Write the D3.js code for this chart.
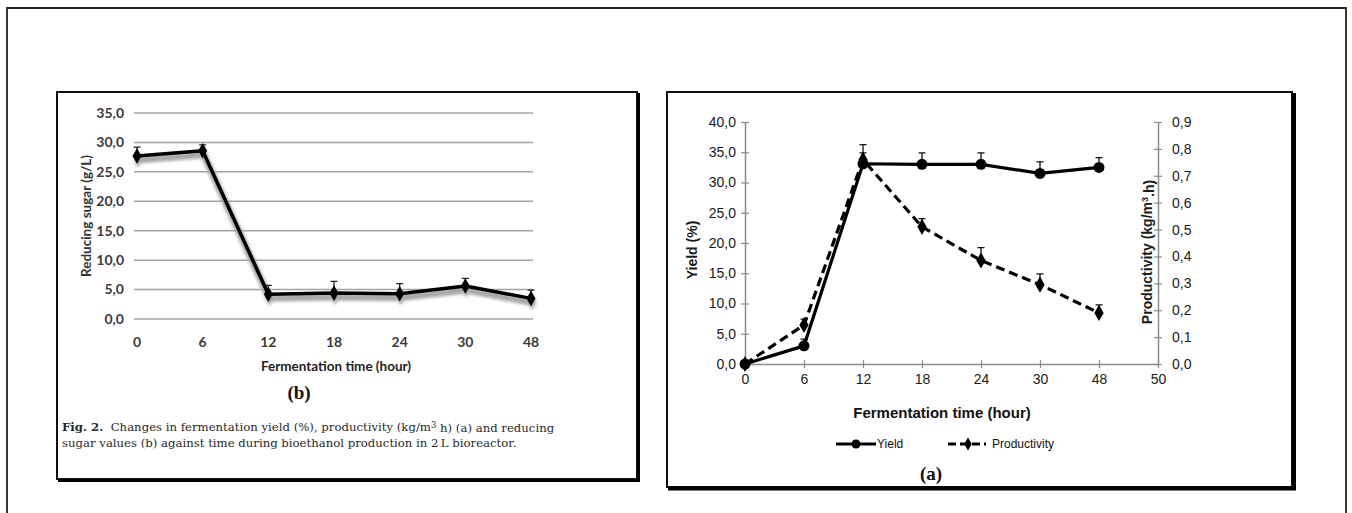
<!DOCTYPE html>
<html>
<head>
<meta charset="utf-8">
<script src="https://cdn.jsdelivr.net/npm/d3@7"></script>
<style>
  html, body { margin: 0; padding: 0; background: #fff; }
  svg { display: block; }
</style>
</head>
<body>
<div id="chart"></div>
<script>
// panel (b): reducing sugar
const timeB = ['0', '6', '12', '18', '24', '30', '48'];
const sugar = [27.7, 28.6, 4.2, 4.4, 4.3, 5.6, 3.5];
const sugarErr = [1.5, 1.0, 1.5, 2.0, 1.7, 1.3, 1.4];
const sugarTicks = [0, 5, 10, 15, 20, 25, 30, 35];

// panel (a): yield and productivity
const timeA = ['0', '6', '12', '18', '24', '30', '48', '50'];
const yieldVals = [0, 3.0, 33.1, 33.0, 33.0, 31.5, 32.5];
const yieldErr = [0.3, 1.1, 1.8, 1.9, 1.9, 1.9, 1.6];
const prodVals = [0, 0.145, 0.76, 0.51, 0.385, 0.295, 0.19];
const prodErr = [0.005, 0.022, 0.056, 0.031, 0.048, 0.04, 0.03];
const yieldTicks = [0, 5, 10, 15, 20, 25, 30, 35, 40];
const prodTicks = [0, 0.1, 0.2, 0.3, 0.4, 0.5, 0.6, 0.7, 0.8, 0.9];

const W = 1352, H = 513;
const loc = d3.formatLocale({decimal: ',', thousands: '.', grouping: [3], currency: ['', '']});
const fmt1 = loc.format('.1f');

const svg = d3.select('#chart').append('svg')
  .attr('width', W)
  .attr('height', H);

const defs = svg.append('defs');
defs.append('filter')
  .attr('id', 'blur')
  .attr('x', '-10%').attr('y', '-10%').attr('width', '120%').attr('height', '120%')
  .append('feGaussianBlur')
  .attr('stdDeviation', 1.6);

// frames
svg.append('path')
  .attr('d', `M7,${H + 2} V8 H1346 V${H + 2}`)
  .style('fill', 'none')
  .style('stroke', '#222')
  .style('stroke-width', 1.8);

function panel(x0, y0, x1, y1, thick) {
  svg.append('rect')
    .attr('x', x0).attr('y', y0)
    .attr('width', x1 - x0).attr('height', y1 - y0)
    .style('fill', 'none')
    .style('stroke', '#111')
    .style('stroke-width', 2);
  svg.append('path')
    .attr('d', `M${x1 + thick / 2},${y0 + 1} V${y1 + 1.5} H${x0 + 1}`)
    .style('fill', 'none')
    .style('stroke', '#000')
    .style('stroke-width', thick);
}
panel(57, 92, 637, 479, 3);
panel(667, 92, 1292, 487, 4);

/* ---------- panel (b) ---------- */
const xB = d3.scalePoint().domain(timeB).range([137, 531]);
const yB = d3.scaleLinear().domain([0, 35]).range([319, 113]);

const gB = svg.append('g');

gB.selectAll('.grid')
  .data(sugarTicks)
  .enter()
  .append('line')
  .attr('x1', 134).attr('x2', 533)
  .attr('y1', d => yB(d)).attr('y2', d => yB(d))
  .style('stroke', '#a3a3a3')
  .style('stroke-width', 1.5);

gB.selectAll('.ytick')
  .data(sugarTicks)
  .enter()
  .append('text')
  .attr('x', 124)
  .attr('y', d => yB(d))
  .attr('dy', '0.35em')
  .attr('text-anchor', 'end')
  .style('font', '700 14px Lato, sans-serif')
  .style('fill', '#3a3a3a')
  .text(d => fmt1(d));

gB.selectAll('.xtick')
  .data(timeB)
  .enter()
  .append('text')
  .attr('x', d => xB(d))
  .attr('y', 342)
  .attr('dy', '0.35em')
  .attr('text-anchor', 'middle')
  .style('font', '700 14px Lato, sans-serif')
  .style('fill', '#3a3a3a')
  .text(d => d);

gB.append('text')
  .attr('transform', 'translate(86,216) rotate(-90)')
  .attr('text-anchor', 'middle')
  .attr('dy', '0.35em')
  .style('font', '700 13.5px Lato, sans-serif')
  .style('fill', '#333')
  .text('Reducing sugar (g/L)');

gB.append('text')
  .attr('x', 336).attr('y', 366)
  .attr('dy', '0.35em')
  .attr('text-anchor', 'middle')
  .style('font', '700 13.5px Lato, sans-serif')
  .style('fill', '#222')
  .text('Fermentation time (hour)');

gB.append('text')
  .attr('x', 299).attr('y', 392)
  .attr('dy', '0.35em')
  .attr('text-anchor', 'middle')
  .style('font', '700 19px "Liberation Serif", serif')
  .style('fill', '#111')
  .text('(b)');

const sugarPts = timeB.map((t, i) => ({t: t, v: sugar[i], e: sugarErr[i]}));
const lineB = d3.line().x(d => xB(d.t)).y(d => yB(d.v));
const diamond = d3.symbol().type(d3.symbolDiamond).size(70);

// soft grey shadow under the line
const shadow = gB.append('g')
  .attr('transform', 'translate(1,4)')
  .attr('filter', 'url(#blur)');
shadow.append('path')
  .datum(sugarPts)
  .attr('d', lineB)
  .style('fill', 'none')
  .style('stroke', '#a8a8a8')
  .style('stroke-width', 7);
shadow.selectAll('.sh')
  .data(sugarPts)
  .enter()
  .append('path')
  .attr('d', diamond)
  .attr('transform', d => `translate(${xB(d.t)},${yB(d.v)})`)
  .style('fill', '#a8a8a8');

gB.selectAll('.err')
  .data(sugarPts)
  .enter()
  .append('path')
  .attr('d', d => {
    const x = xB(d.t), y0 = yB(d.v), y1 = yB(d.v + d.e);
    return `M${x},${y0} V${y1} M${x - 3.5},${y1} H${x + 3.5}`;
  })
  .style('stroke', '#222')
  .style('stroke-width', 1.3)
  .style('fill', 'none');

gB.append('path')
  .datum(sugarPts)
  .attr('d', lineB)
  .style('fill', 'none')
  .style('stroke', '#000')
  .style('stroke-width', 3.5)
  .style('stroke-linejoin', 'round');

gB.selectAll('.mk')
  .data(sugarPts)
  .enter()
  .append('path')
  .attr('d', diamond)
  .attr('transform', d => `translate(${xB(d.t)},${yB(d.v)})`)
  .style('fill', '#000');

// caption
const capFont = '11.7px "DejaVu Serif", serif';
const cap = svg.append('text')
  .attr('x', 62).attr('y', 427)
  .attr('dy', '0.35em')
  .style('font', capFont)
  .style('fill', '#2a2a2a');
cap.append('tspan').style('font-weight', 700).text('Fig. 2.');
cap.append('tspan').text('\u00a0 Changes in fermentation yield (%), productivity (kg/m');
cap.append('tspan').attr('dy', '-0.4em').style('font-size', '8.5px').text('3');
cap.append('tspan').attr('dy', '0.4em').text(' h) (a) and reducing');

svg.append('text')
  .attr('x', 62).attr('y', 443)
  .attr('dy', '0.35em')
  .style('font', capFont)
  .style('fill', '#2a2a2a')
  .text('sugar values (b) against time during bioethanol production in 2\u2009L bioreactor.');

/* ---------- panel (a) ---------- */
const xA = d3.scalePoint().domain(timeA).range([745, 1158]);
const yA = d3.scaleLinear().domain([0, 40]).range([364, 122]);
const yP = d3.scaleLinear().domain([0, 0.9]).range([364, 122]);

const gA = svg.append('g');

const axL = gA.append('g')
  .attr('transform', `translate(${xA('0')},0)`)
  .call(d3.axisLeft(yA).tickValues(yieldTicks).tickFormat(fmt1).tickSizeInner(4).tickSizeOuter(0));
const axR = gA.append('g')
  .attr('transform', `translate(${xA('50')},0)`)
  .call(d3.axisRight(yP).tickValues(prodTicks).tickFormat(fmt1).tickSizeInner(4).tickSizeOuter(0));
const axB = gA.append('g')
  .attr('transform', `translate(0,${yA(0)})`)
  .call(d3.axisBottom(xA).tickSizeInner(4).tickSizeOuter(0));

[axL, axR, axB].forEach(ax => {
  ax.select('.domain').attr('stroke', '#8c8c8c').attr('stroke-width', 1.5);
  ax.selectAll('.tick line').attr('stroke', '#8c8c8c').attr('stroke-width', 1.2);
  ax.selectAll('.tick text')
    .style('font', '14px "Liberation Sans", Arial, sans-serif')
    .style('fill', '#1a1a1a');
});
axL.selectAll('.tick line').attr('x1', 4);
axR.selectAll('.tick line').attr('x1', -4);
axB.selectAll('.tick line').attr('y1', -4);
axL.selectAll('.tick text').attr('x', -9);
axR.selectAll('.tick text').attr('x', 14);
axB.selectAll('.tick text').attr('y', 10);

gA.append('text')
  .attr('transform', 'translate(692,250) rotate(-90)')
  .attr('text-anchor', 'middle')
  .attr('dy', '0.35em')
  .style('font', '700 14px "Liberation Sans", Arial, sans-serif')
  .style('fill', '#1a1a1a')
  .text('Yield (%)');

const pt = gA.append('text')
  .attr('transform', 'translate(1147,252) rotate(-90)')
  .attr('text-anchor', 'middle')
  .attr('dy', '0.35em')
  .style('font', '700 14px "Liberation Sans", Arial, sans-serif')
  .style('fill', '#1a1a1a');
pt.append('tspan').text('Productivity (kg/m');
pt.append('tspan').attr('dy', '-0.4em').style('font-size', '9px').text('3');
pt.append('tspan').attr('dy', '0.4em').text('.h)');

gA.append('text')
  .attr('x', 942).attr('y', 413)
  .attr('dy', '0.35em')
  .attr('text-anchor', 'middle')
  .style('font', '700 15px "Liberation Sans", Arial, sans-serif')
  .style('fill', '#111')
  .text('Fermentation time (hour)');

gA.append('text')
  .attr('x', 931).attr('y', 473)
  .attr('dy', '0.35em')
  .attr('text-anchor', 'middle')
  .style('font', '700 19px "Liberation Serif", serif')
  .style('fill', '#111')
  .text('(a)');

const yieldPts = yieldVals.map((v, i) => ({t: timeA[i], v: v, e: yieldErr[i]}));
const prodPts = prodVals.map((v, i) => ({t: timeA[i], v: v, e: prodErr[i]}));

function errBars(pts, y) {
  gA.append('g').selectAll('path')
    .data(pts)
    .enter()
    .append('path')
    .attr('d', d => {
      const x = xA(d.t), y0 = y(d.v), y1 = y(d.v + d.e);
      return `M${x},${y0} V${y1} M${x - 3.5},${y1} H${x + 3.5}`;
    })
    .style('stroke', '#111')
    .style('stroke-width', 1.3)
    .style('fill', 'none');
}
errBars(yieldPts, yA);
errBars(prodPts, yP);

gA.append('path')
  .datum(prodPts)
  .attr('d', d3.line().x(d => xA(d.t)).y(d => yP(d.v)))
  .style('fill', 'none')
  .style('stroke', '#000')
  .style('stroke-width', 3.2)
  .style('stroke-dasharray', '9,5');

gA.append('path')
  .datum(yieldPts)
  .attr('d', d3.line().x(d => xA(d.t)).y(d => yA(d.v)))
  .style('fill', 'none')
  .style('stroke', '#000')
  .style('stroke-width', 3.2);

gA.selectAll('.pm')
  .data(prodPts)
  .enter()
  .append('path')
  .attr('d', d3.symbol().type(d3.symbolDiamond).size(75))
  .attr('transform', d => `translate(${xA(d.t)},${yP(d.v)})`)
  .style('fill', '#000');

gA.selectAll('.ym')
  .data(yieldPts)
  .enter()
  .append('circle')
  .attr('cx', d => xA(d.t))
  .attr('cy', d => yA(d.v))
  .attr('r', 5.5)
  .style('fill', '#000');

// legend
const lg = gA.append('g').attr('transform', 'translate(0,444)');
lg.append('line')
  .attr('x1', 836).attr('x2', 876)
  .style('stroke', '#000').style('stroke-width', 3.2);
lg.append('circle').attr('cx', 856).attr('r', 4.5).style('fill', '#000');
lg.append('text')
  .attr('x', 877).attr('dy', '0.35em')
  .style('font', '12px "Liberation Sans Narrow", "Liberation Sans", Arial, sans-serif')
  .style('fill', '#111')
  .text('Yield');
lg.append('line')
  .attr('x1', 948).attr('x2', 986)
  .style('stroke', '#000').style('stroke-width', 3.2)
  .style('stroke-dasharray', '8,4');
lg.append('path')
  .attr('d', d3.symbol().type(d3.symbolDiamond).size(50))
  .attr('transform', 'translate(968,0)')
  .style('fill', '#000');
lg.append('text')
  .attr('x', 992).attr('dy', '0.35em')
  .style('font', '12px "Liberation Sans Narrow", "Liberation Sans", Arial, sans-serif')
  .style('fill', '#111')
  .text('Productivity');
</script>
</body>
</html>
